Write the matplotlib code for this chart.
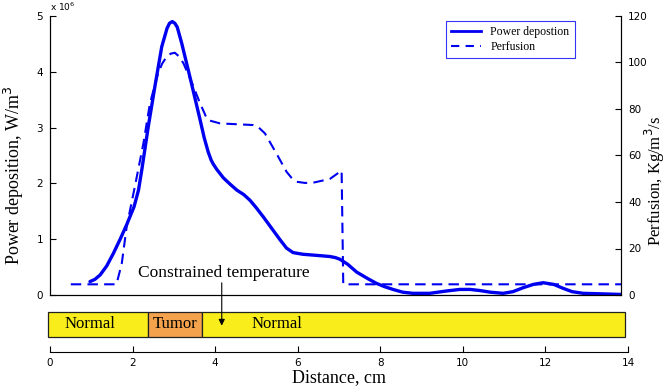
import matplotlib
matplotlib.use("Agg")
import matplotlib.pyplot as plt
from matplotlib.patches import Rectangle
from matplotlib.lines import Line2D

# ---- data ----
power_x = [0.98, 1.1, 1.23, 1.39, 1.55, 1.72, 1.88, 2.06, 2.17, 2.25, 2.41, 2.57, 2.74, 2.87,
           2.93, 3.0, 3.06, 3.12, 3.23, 3.43, 3.68, 3.78, 3.88, 3.95, 4.0, 4.09, 4.25, 4.41,
           4.58, 4.75, 4.9, 5.05, 5.23, 5.44, 5.64, 5.8, 5.96, 6.2, 6.54, 6.86, 7.0, 7.11,
           7.3, 7.52, 7.8, 8.0, 8.2, 8.41, 8.65, 8.9, 9.31, 9.7, 10.05, 10.3, 10.54, 10.8,
           11.11, 11.35, 11.6, 11.85, 12.09, 12.35, 12.58, 12.8, 13.07, 13.56, 14.0]
power_y = [0.24, 0.28, 0.36, 0.52, 0.74, 1.0, 1.26, 1.58, 1.88, 2.24, 3.02, 3.73, 4.45, 4.78,
           4.87, 4.90, 4.87, 4.80, 4.51, 3.91, 3.14, 2.82, 2.56, 2.42, 2.35, 2.25, 2.10, 1.99,
           1.88, 1.80, 1.70, 1.57, 1.40, 1.19, 0.99, 0.84, 0.76, 0.73, 0.71, 0.69, 0.67, 0.64,
           0.55, 0.41, 0.29, 0.21, 0.15, 0.10, 0.05, 0.03, 0.03, 0.07, 0.10, 0.10, 0.08, 0.05,
           0.03, 0.06, 0.13, 0.19, 0.22, 0.19, 0.12, 0.06, 0.03, 0.02, 0.01]

perf_x = [0.51, 1.63, 1.76, 1.88, 2.08, 2.29, 2.45, 2.65, 2.75, 2.86, 2.96, 3.06, 3.17,
          3.27, 3.47, 3.68, 3.78, 3.84, 3.92, 4.17, 4.98, 5.12, 5.27, 5.55, 5.80, 5.93,
          6.05, 6.25, 6.45, 6.86, 7.15, 7.19, 7.23, 14.0]
perf_y = [4.6, 4.6, 13.6, 29.4, 46.6, 65.2, 82.4, 95.4, 99.5, 102.5, 103.8, 104.2, 102.5,
          99.7, 91.7, 82.4, 78.5, 76.0, 75.0, 73.8, 73.1, 72.0, 69.5, 60.9, 53.0, 50.2,
          48.7, 48.2, 48.3, 49.9, 53.5, 4.7, 4.6, 4.6]

regions = ["Normal", "Tumor", "Normal"]
region_edges = [-0.05, 2.37, 3.68, 13.93]
region_text_x = [0.97, 3.03, 5.5]
region_colors = ["#f9ee1c", "#f5a24c", "#f9ee1c"]

x_ticks = [0, 2, 4, 6, 8, 10, 12, 14]
left_ticks = [0, 1, 2, 3, 4, 5]
right_ticks = [0, 20, 40, 60, 80, 100, 120]

BLUE = "#0000f0"
SERIF = ["Liberation Serif", "DejaVu Serif"]
TICKFONT = "DejaVu Sans"

fig = plt.figure(figsize=(6.67, 3.91), dpi=100)
W, H = 667.0, 391.0

# main axes
ax = fig.add_axes([50 / W, 1 - 295 / H, 571 / W, 279 / H])
ax.plot(power_x, power_y, color=BLUE, lw=2.4, solid_joinstyle="round", solid_capstyle="round")
ax.set_xlim(0, 14)
ax.set_ylim(0, 5)
ax.set_xticks([])
ax.set_yticks(left_ticks)
ax.spines["top"].set_visible(False)
ax.tick_params(axis="y", direction="in", length=4, labelsize=7.5, pad=5)
for t in ax.get_yticklabels():
    t.set_fontfamily(TICKFONT)
ax.set_ylabel("Power deposition, W/m$^{3}$", fontsize=13, family=SERIF)
ax.yaxis.set_label_coords(-24 / 571, 0.43)
ax.text(0.0, 1.012, r"x 10$^{6}$", transform=ax.transAxes, fontsize=6.5, family=TICKFONT,
        ha="left", va="bottom")

ax2 = ax.twinx()
ax2.plot(perf_x, perf_y, color=BLUE, lw=1.5, dashes=(5, 3))
ax2.set_ylim(0, 120)
ax2.set_yticks(right_ticks)
ax2.spines["top"].set_visible(False)
ax2.tick_params(axis="y", direction="in", length=4, labelsize=7.5, pad=5)
for t in ax2.get_yticklabels():
    t.set_fontfamily(TICKFONT)
ax2.set_ylabel("Perfusion, Kg/m$^{3}$/s", fontsize=12, family=SERIF)
ax2.yaxis.set_label_coords(1 + 22 / 571, 0.41)

# legend
handles = [Line2D([], [], color=BLUE, lw=2.0),
           Line2D([], [], color=BLUE, lw=1.5, dashes=(4, 3))]
leg = ax2.legend(handles, ["Power depostion", "Perfusion"], loc="upper left",
                 bbox_to_anchor=(446 / W, 1 - 21 / H), bbox_transform=fig.transFigure,
                 prop={"family": SERIF, "size": 8.5}, frameon=True, fancybox=False,
                 handlelength=2.5, borderpad=0.45, labelspacing=0.2, handletextpad=0.8,
                 borderaxespad=0)
leg.get_frame().set_edgecolor(BLUE)
leg.get_frame().set_linewidth(0.8)

# annotation text
ax.text(4.27, 0.40, "Constrained temperature", fontsize=12.5, family=SERIF,
        ha="center", va="center")

# bottom bar / distance axis
axb = fig.add_axes([50 / W, 1 - 352 / H, 578 / W, 40 / H])
axb.set_xlim(0, 14)
axb.set_ylim(0, 1)
for i, name in enumerate(regions):
    x0, x1 = region_edges[i], region_edges[i + 1]
    axb.add_patch(Rectangle((x0, 0.385), x1 - x0, 0.615, facecolor=region_colors[i],
                            edgecolor="#222222", lw=0.9, clip_on=False, zorder=2))
    axb.text(region_text_x[i], 0.69, name, fontsize=12, family=SERIF, ha="center",
             va="center", zorder=3)
axb.annotate("", xy=(4.16, 0.66), xytext=(4.16, 1.73), xycoords="data",
             arrowprops=dict(arrowstyle="-|>", color="black", lw=0.8, mutation_scale=9,
                             shrinkA=0, shrinkB=0),
             annotation_clip=False, zorder=5)
for s in ["top", "left", "right"]:
    axb.spines[s].set_visible(False)
axb.set_yticks([])
axb.set_xticks(x_ticks)
axb.tick_params(axis="x", direction="in", length=4, labelsize=7.5, pad=4)
for t in axb.get_xticklabels():
    t.set_fontfamily(TICKFONT)
axb.set_xlabel("Distance, cm", fontsize=13, family=SERIF, labelpad=1)
axb.patch.set_visible(False)

fig.savefig("out.png", dpi=100)
